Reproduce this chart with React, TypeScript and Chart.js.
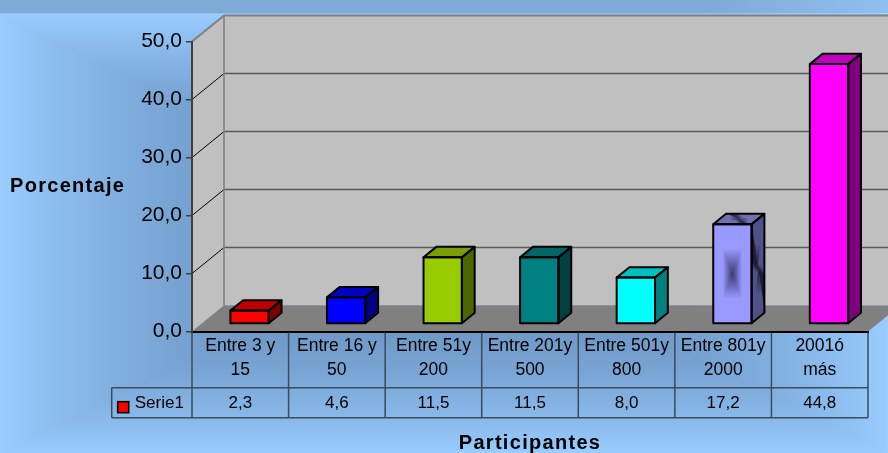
import React, { useEffect, useRef } from "react";
import { Chart, registerables } from "chart.js";

Chart.register(...registerables);

// ---- data ----
const categories: string[][] = [
  ["Entre 3 y", "15"],
  ["Entre 16 y", "50"],
  ["Entre 51y", "200"],
  ["Entre 201y", "500"],
  ["Entre 501y", "800"],
  ["Entre 801y", "2000"],
  ["2001ó", "más"],
];
const seriesName = "Serie1";
const values: number[] = [2.3, 4.6, 11.5, 11.5, 8.0, 17.2, 44.8];
const yTicks: number[] = [0, 10, 20, 30, 40, 50];
const yTitle = "Porcentaje";
const xTitle = "Participantes";

// ---- styles ----
const frontColors = ["#ff0000", "#0000ff", "#99cc00", "#008080", "#00ffff", "#9999ff", "#ff00ff"];
const topColors = ["#c00000", "#0000c0", "#7a9e00", "#006666", "#00c0c0", "#7070b0", "#c000c0"];
const sideColors = ["#800000", "#000080", "#4d6600", "#004040", "#008080", "#50508a", "#800080"];
const shadedBar = [false, false, false, false, false, true, false];

const FONT = "'Liberation Sans', Arial, sans-serif";
const DX = 32;
const DY = -26;
const F0 = 0.29;
const F1 = 0.69;
const TABLE_LINE = "#3b4a5c";

const fmt = (v: number) => v.toFixed(1).replace(".", ",");

type P = [number, number];

function poly(ctx: CanvasRenderingContext2D, pts: P[]) {
  ctx.beginPath();
  ctx.moveTo(pts[0][0], pts[0][1]);
  for (let i = 1; i < pts.length; i++) ctx.lineTo(pts[i][0], pts[i][1]);
  ctx.closePath();
}

function face(ctx: CanvasRenderingContext2D, pts: P[], fill: string) {
  poly(ctx, pts);
  ctx.fillStyle = fill;
  ctx.fill();
}

function shadedFace(ctx: CanvasRenderingContext2D, pts: P[], edge: string, center: string) {
  const cx = pts.reduce((s, p) => s + p[0], 0) / pts.length;
  const cy = pts.reduce((s, p) => s + p[1], 0) / pts.length;
  for (let i = 0; i < pts.length; i++) {
    const a = pts[i];
    const b = pts[(i + 1) % pts.length];
    const mx = (a[0] + b[0]) / 2;
    const my = (a[1] + b[1]) / 2;
    const g = ctx.createLinearGradient(mx, my, cx, cy);
    g.addColorStop(0, edge);
    g.addColorStop(0.5, edge);
    g.addColorStop(1, center);
    ctx.beginPath();
    ctx.moveTo(a[0], a[1]);
    ctx.lineTo(b[0], b[1]);
    ctx.lineTo(cx, cy);
    ctx.closePath();
    ctx.fillStyle = g;
    ctx.fill();
    ctx.strokeStyle = g;
    ctx.lineWidth = 0.6;
    ctx.stroke();
  }
}

function line(ctx: CanvasRenderingContext2D, x1: number, y1: number, x2: number, y2: number, color: string, w: number) {
  ctx.beginPath();
  ctx.moveTo(x1, y1);
  ctx.lineTo(x2, y2);
  ctx.strokeStyle = color;
  ctx.lineWidth = w;
  ctx.stroke();
}

const plugin3d = {
  id: "excel3d",
  beforeDraw(chart: any) {
    const ctx: CanvasRenderingContext2D = chart.ctx;
    const W = chart.width;
    const H = chart.height;
    // background: rectangular from-center gradient
    const top0 = 14;
    const img = ctx.createImageData(W, H);
    const cxg = W / 2;
    const cyg = (top0 + H) / 2;
    const hw = W / 2;
    const hh = (H - top0) / 2;
    const dark = [100, 140, 185];
    const light = [153, 204, 255];
    for (let y = 0; y < H; y++) {
      for (let x = 0; x < W; x++) {
        const i = (y * W + x) * 4;
        let r, g, b;
        if (y < top0) {
          const k = x < 700 ? 0 : (x - 700) / (W - 700);
          r = 127 + k * 16;
          g = 169 + k * 22;
          b = 214 + k * 26;
          if (y === top0 - 1) {
            r += 20; g += 22; b += 25;
          }
        } else {
          const t = Math.min(1, Math.max(Math.abs(x - cxg) / hw, Math.abs(y - cyg) / hh));
          const k = t * t;
          r = dark[0] + (light[0] - dark[0]) * k;
          g = dark[1] + (light[1] - dark[1]) * k;
          b = dark[2] + (light[2] - dark[2]) * k;
        }
        img.data[i] = r;
        img.data[i + 1] = g;
        img.data[i + 2] = b;
        img.data[i + 3] = 255;
      }
    }
    ctx.putImageData(img, 0, 0);

    const ys = chart.scales.y;
    const ca = chart.chartArea;
    const L = ca.left;
    const R = ca.right;
    const T = ys.getPixelForValue(ys.max);
    const B = ys.getPixelForValue(ys.min);

    ctx.save();
    face(ctx, [[L, T], [L + DX, T + DY], [L + DX, B + DY], [L, B]], "#c0c0c0");
    face(ctx, [[L + DX, T + DY], [R + DX, T + DY], [R + DX, B + DY], [L + DX, B + DY]], "#c0c0c0");
    face(ctx, [[L, B], [R, B], [R + DX, B + DY], [L + DX, B + DY]], "#808080");
    for (const v of yTicks) {
      if (v <= ys.min || v >= ys.max) continue;
      const y = ys.getPixelForValue(v);
      line(ctx, L + DX, y + DY, R + DX, y + DY, "#5a5a5a", 1.6);
      line(ctx, L, y, L + DX, y + DY, "#000000", 1);
    }
    line(ctx, L + DX, T + DY, R + DX, T + DY, "#808080", 2);
    line(ctx, L + DX, T + DY, L + DX, B + DY, "#808080", 1.6);
    line(ctx, L, T, L + DX, T + DY, "#808080", 2);
    ctx.restore();
  },
  afterDatasetsDraw(chart: any) {
    const ctx: CanvasRenderingContext2D = chart.ctx;
    const meta = chart.getDatasetMeta(0);
    ctx.save();
    ctx.lineJoin = "round";
    meta.data.forEach((el: any, i: number) => {
      const w = el.width;
      const l = el.x - w / 2 + F0 * DX;
      const r = l + w;
      const t = el.y + F0 * DY;
      const b = el.base + F0 * DY;
      const bx = (F1 - F0) * DX;
      const by = (F1 - F0) * DY;
      const front: P[] = [[l, t], [r, t], [r, b], [l, b]];
      const topF: P[] = [[l, t], [r, t], [r + bx, t + by], [l + bx, t + by]];
      const side: P[] = [[r, t], [r + bx, t + by], [r + bx, b + by], [r, b]];
      if (shadedBar[i]) {
        shadedFace(ctx, front, frontColors[i], "#3a3a72");
        shadedFace(ctx, topF, topColors[i], "#2c2c52");
        shadedFace(ctx, side, sideColors[i], "#1c1c34");
      } else {
        face(ctx, front, frontColors[i]);
        face(ctx, topF, topColors[i]);
        face(ctx, side, sideColors[i]);
      }
      ctx.strokeStyle = "#000000";
      ctx.lineWidth = 2;
      poly(ctx, front);
      ctx.stroke();
      poly(ctx, topF);
      ctx.stroke();
      poly(ctx, side);
      ctx.stroke();
    });
    ctx.restore();
  },
  afterDraw(chart: any) {
    const ctx: CanvasRenderingContext2D = chart.ctx;
    const xs = chart.scales.x;
    const ca = chart.chartArea;
    const L = ca.left;
    const R = ca.right;
    const B = ca.bottom;
    const colW = (R - L) / categories.length;
    const rowMid = B + 56.2;
    const rowBot = B + 86.2;
    const legL = L - 80.3;

    ctx.save();
    for (let i = 0; i <= categories.length; i++) {
      const x = L + i * colW;
      line(ctx, x, B + 1, x, rowBot, TABLE_LINE, 1.5);
    }
    line(ctx, legL, rowMid, R, rowMid, TABLE_LINE, 1.5);
    line(ctx, legL, rowBot, R, rowBot, TABLE_LINE, 1.5);
    line(ctx, legL, rowMid, legL, rowBot, TABLE_LINE, 1.5);

    ctx.fillStyle = "#000000";
    ctx.font = `17px ${FONT}`;
    ctx.textAlign = "center";
    ctx.textBaseline = "middle";
    values.forEach((v, i) => {
      ctx.fillText(fmt(v), xs.getPixelForValue(i), (rowMid + rowBot) / 2 + 1);
    });

    ctx.fillStyle = frontColors[0];
    ctx.fillRect(legL + 6, rowMid + 14, 11, 11);
    ctx.strokeStyle = "#000000";
    ctx.lineWidth = 1.6;
    ctx.strokeRect(legL + 6, rowMid + 14, 11, 11);
    ctx.fillStyle = "#000000";
    ctx.textAlign = "left";
    ctx.fillText(seriesName, legL + 23, (rowMid + rowBot) / 2 + 1);

    ctx.font = `bold 20px ${FONT}`;
    (ctx as any).letterSpacing = "1.3px";
    ctx.textBaseline = "alphabetic";
    ctx.textAlign = "left";
    ctx.fillText(yTitle, 10, 191.7);
    ctx.textAlign = "center";
    ctx.fillText(xTitle, (L + R) / 2, 449.3);
    (ctx as any).letterSpacing = "0px";
    ctx.restore();
  },
};

export default function App() {
  const ref = useRef<HTMLCanvasElement>(null);
  useEffect(() => {
    document.body.style.margin = "0";
    const canvas = ref.current!;
    const chart = new Chart(canvas, {
      type: "bar",
      data: {
        labels: categories as any,
        datasets: [
          {
            label: seriesName,
            data: values,
            backgroundColor: "rgba(0,0,0,0)",
            borderWidth: 0,
            barPercentage: 0.397,
            categoryPercentage: 1,
          },
        ],
      },
      options: {
        responsive: false,
        animation: false,
        devicePixelRatio: 1,
        events: [],
        layout: { padding: { top: 41.5, right: 20, bottom: 0, left: 0 }, autoPadding: false },
        plugins: {
          legend: { display: false },
          tooltip: { enabled: false },
          title: { display: false },
        },
        scales: {
          x: {
            type: "category",
            offset: true,
            grid: { display: false, drawTicks: false },
            border: { display: true, color: "#000000", width: 2 },
            ticks: {
              color: "#000000",
              font: { family: FONT, size: 17.5, lineHeight: 24 / 17.5 },
              padding: 3,
              maxRotation: 0,
              minRotation: 0,
              autoSkip: false,
            },
            afterFit: (scale: any) => {
              scale.height = 453 - 331.5;
            },
          },
          y: {
            type: "linear",
            min: 0,
            max: 50,
            grid: { drawOnChartArea: false, drawTicks: true, tickLength: 6, color: "#404040", lineWidth: 1.5 },
            border: { display: true, color: "#404040", width: 2 },
            ticks: {
              stepSize: 10,
              color: "#000000",
              padding: 4,
              font: { family: FONT, size: 21 },
              callback: (v: any) => fmt(Number(v)),
            },
            afterFit: (scale: any) => {
              scale.width = 192;
            },
          },
        },
      },
      plugins: [plugin3d],
    } as any);
    return () => chart.destroy();
  }, []);
  return <canvas ref={ref} width={888} height={453} style={{ display: "block" }} />;
}
